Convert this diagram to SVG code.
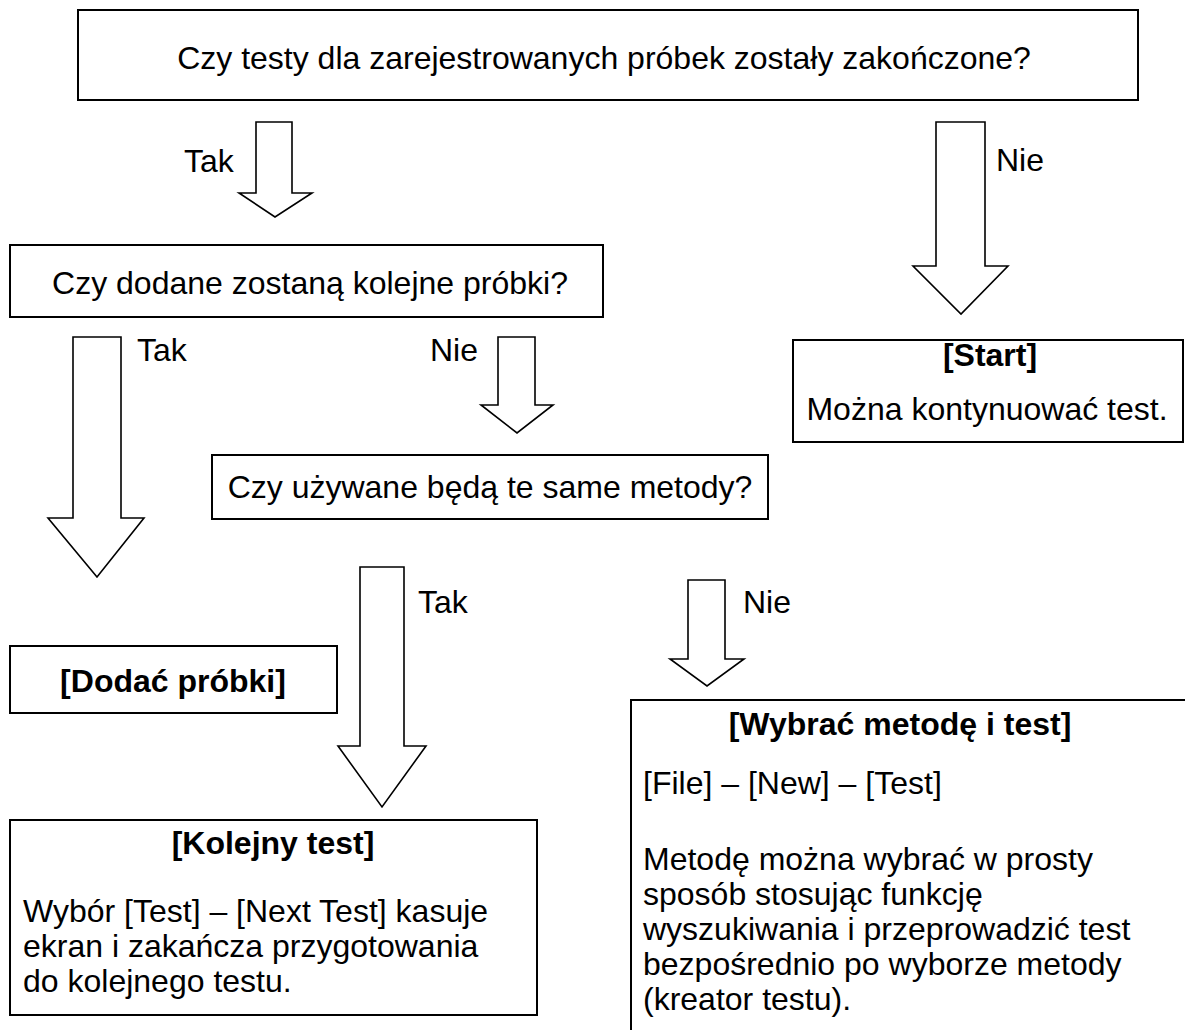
<svg xmlns="http://www.w3.org/2000/svg" width="1185" height="1030" viewBox="0 0 1185 1030">
<style>
.box{fill:#fff;stroke:#000;stroke-width:2}
.arr{fill:#fff;stroke:#000;stroke-width:1.6;stroke-linejoin:miter}
text{font-family:"Liberation Sans",Arial,sans-serif;font-size:32px;fill:#000}
.c{text-anchor:middle}
.b{font-weight:bold}
</style>
<rect width="1185" height="1030" fill="#fff"/>
<g id="connectors">
<g id="arrA"><path class="arr" d="M256,122 H292 V193 H312 L275,217 L239,193 H256 Z"/><text x="184" y="172">Tak</text></g>
<g id="arrB"><path class="arr" d="M936,122 H985 V266 H1008 L961,314 L913,266 H936 Z"/><text x="996" y="171">Nie</text></g>
<g id="arrC"><path class="arr" d="M73,337 H121 V518 H144 L97,577 L48,518 H73 Z"/><text x="137" y="361">Tak</text></g>
<g id="arrD"><path class="arr" d="M498,337 H535 V405 H553 L517,433 L481,405 H498 Z"/><text x="430" y="361">Nie</text></g>
<g id="arrE"><path class="arr" d="M360,567 H404 V746 H426 L382,807 L338,746 H360 Z"/><text x="418" y="613">Tak</text></g>
<g id="arrF"><path class="arr" d="M688,580 H725 V659 H744 L707,686 L670,659 H688 Z"/><text x="743" y="613">Nie</text></g>
</g>
<g id="n1"><rect class="box" x="78" y="10" width="1060" height="90"/><text class="c" x="604" y="69">Czy testy dla zarejestrowanych próbek zostały zakończone?</text></g>
<g id="n2"><rect class="box" x="10" y="245" width="593" height="72"/><text class="c" x="310" y="294">Czy dodane zostaną kolejne próbki?</text></g>
<g id="n3"><rect class="box" x="793" y="340" width="390" height="102"/><text class="c b" x="990" y="366">[Start]</text><text class="c" x="987" y="420">Można kontynuować test.</text></g>
<g id="n4"><rect class="box" x="212" y="455" width="556" height="64"/><text class="c" x="490" y="498">Czy używane będą te same metody?</text></g>
<g id="n5"><rect class="box" x="10" y="646" width="327" height="67"/><text class="c b" x="173" y="692">[Dodać próbki]</text></g>
<g id="n6"><rect class="box" x="10" y="820" width="527" height="195"/><text class="c b" x="273" y="854">[Kolejny test]</text>
<text x="23" y="922">Wybór [Test] – [Next Test] kasuje</text><text x="23" y="957">ekran i zakańcza przygotowania</text><text x="23" y="992">do kolejnego testu.</text></g>
<g id="n7"><rect class="box" x="631" y="700" width="570" height="400"/><text class="c b" x="900" y="735">[Wybrać metodę i test]</text>
<text x="643" y="794">[File] – [New] – [Test]</text><text x="643" y="870">Metodę można wybrać w prosty</text><text x="643" y="905">sposób stosując funkcję</text><text x="643" y="940">wyszukiwania i przeprowadzić test</text><text x="643" y="975">bezpośrednio po wyborze metody</text><text x="643" y="1010">(kreator testu).</text></g>
</svg>
